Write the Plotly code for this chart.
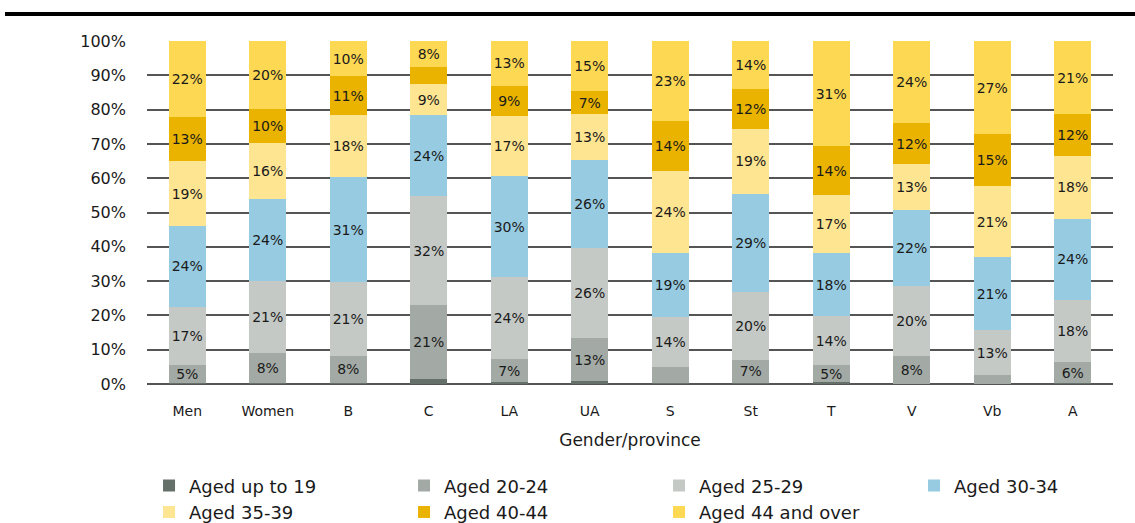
import plotly.graph_objects as go

categories = ["Men", "Women", "B", "C", "LA", "UA", "S", "St", "T", "V", "Vb", "A"]

# shares in % per age group
aged_up_to_19 = [0.3, 0.4, 0.2, 1.6, 0.6, 0.8, 0.3, 0.4, 0.5, 0.1, 0.1, 0.2]
aged_20_24 = [5.1, 8.5, 8.1, 21.4, 6.6, 12.6, 4.8, 6.6, 5.0, 8.2, 2.5, 6.2]
aged_25_29 = [17.1, 21.1, 21.3, 31.7, 23.9, 26.2, 14.3, 19.7, 14.3, 20.4, 13.0, 18.1]
aged_30_34 = [23.6, 24.0, 30.8, 23.6, 29.6, 25.7, 18.8, 28.8, 18.3, 22.1, 21.4, 23.7]
aged_35_39 = [18.8, 16.3, 17.9, 9.2, 17.4, 13.3, 24.0, 18.9, 16.9, 13.2, 20.7, 18.3]
aged_40_44 = [13.0, 10.0, 11.4, 4.9, 8.8, 6.8, 14.4, 11.6, 14.3, 12.2, 15.1, 12.1]
aged_44_over = [22.1, 19.7, 10.3, 7.6, 13.1, 14.6, 23.4, 14.0, 30.7, 23.8, 27.2, 21.4]

series = [
    ("Aged up to 19", aged_up_to_19, "#66706a"),
    ("Aged 20-24", aged_20_24, "#a3aaa5"),
    ("Aged 25-29", aged_25_29, "#c4c9c6"),
    ("Aged 30-34", aged_30_34, "#96cbe1"),
    ("Aged 35-39", aged_35_39, "#fee592"),
    ("Aged 40-44", aged_40_44, "#e9b300"),
    ("Aged 44 and over", aged_44_over, "#fdd853"),
]

FONT = "DejaVu Sans"
INK = "#1a1a1a"

fig = go.Figure()
for name, vals, col in series:
    # small segments get no label
    labels = [f"{round(v)}%" if v >= 5 else "" for v in vals]
    fig.add_trace(go.Bar(
        x=categories, y=vals, name=name,
        marker=dict(color=col, line=dict(width=0)),
        text=labels, textposition="inside", insidetextanchor="middle",
        textangle=0, constraintext="none",
        textfont=dict(family=FONT, size=14, color=INK),
        hoverinfo="skip",
    ))

fig.update_layout(
    barmode="stack",
    bargap=0.54,
    width=1135, height=523,
    margin=dict(l=147, r=22, t=41, b=139, autoexpand=False),
    paper_bgcolor="white", plot_bgcolor="white",
    font=dict(family=FONT, color=INK),
    showlegend=True,
    # x just below 0 so the legend may use the left margin width too (4 columns)
    legend=dict(
        orientation="h", x=-0.001, xanchor="left", y=-0.243, yanchor="top",
        entrywidth=207, entrywidthmode="pixels", traceorder="normal",
        indentation=3,
        font=dict(family=FONT, size=18, color=INK),
        itemwidth=30, tracegroupgap=0,
    ),
    shapes=[dict(type="line", xref="paper", yref="paper",
                 x0=-0.147, x1=1.05, y0=1.079, y1=1.079,
                 line=dict(color="black", width=4))],
)

fig.update_xaxes(
    showgrid=False, showline=False, ticks="",
    ticklabelstandoff=17,
    tickfont=dict(family=FONT, size=14),
    title=dict(text="Gender/province", font=dict(family=FONT, size=17), standoff=16),
)
fig.update_yaxes(
    range=[0, 100], dtick=10, ticksuffix="%",
    showgrid=True, gridcolor="#555555", gridwidth=1.5,
    zeroline=True, zerolinecolor="#555555", zerolinewidth=1.5,
    showline=False, ticks="", ticklabelstandoff=20,
    tickfont=dict(family=FONT, size=16),
)

# drop the default 8px body margin so the figure fills the window exactly
fig.write_html("out.html", config={"displayModeBar": False},
               post_script="document.body.style.margin='0';")
